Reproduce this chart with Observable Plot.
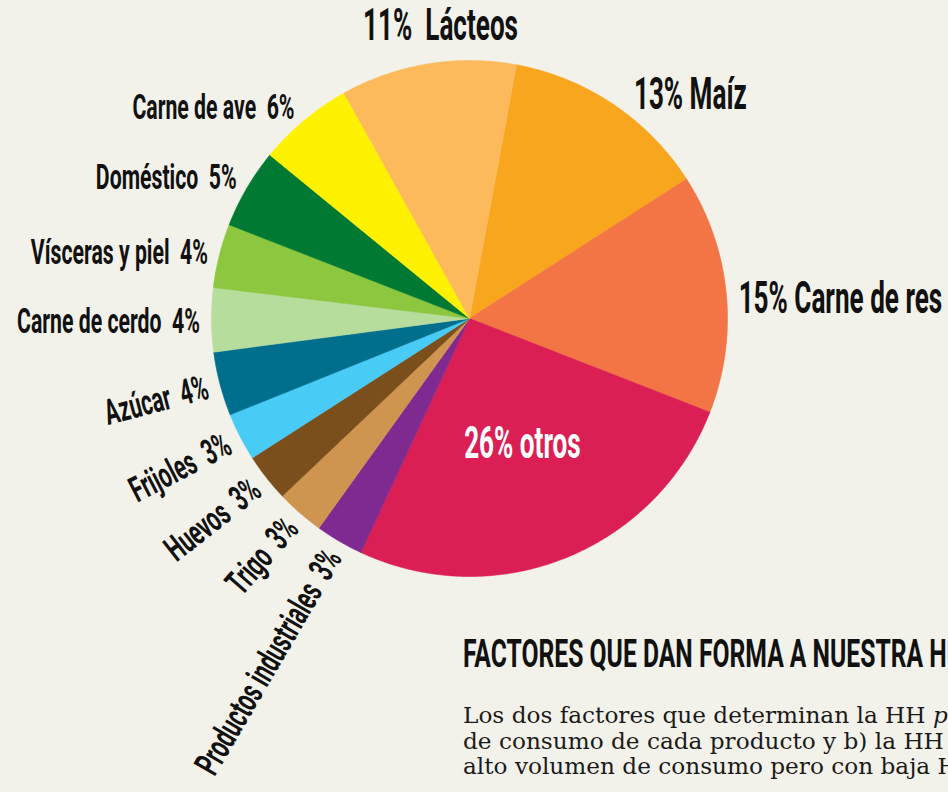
<!DOCTYPE html>
<html>
<head>
<meta charset="utf-8">
<script src="https://cdn.jsdelivr.net/npm/d3@7"></script>
<script src="https://cdn.jsdelivr.net/npm/@observablehq/plot@0.6"></script>
<style>
html, body { margin: 0; padding: 0; background: #F3F2EA; width: 948px; height: 792px; overflow: hidden; }
#wrap { position: relative; width: 948px; height: 792px; overflow: hidden; }
#chart { position: absolute; left: 0; top: 0; }
#heading { position: absolute; left: 463px; top: 635px; white-space: nowrap; font-family: Roboto, sans-serif; font-weight: 700; font-size: 38px; line-height: 38px; color: #111; transform: scaleX(0.65); transform-origin: 0 0; margin: 0; }
#body { position: absolute; left: 463px; top: 702px; white-space: nowrap; font-family: "DejaVu Serif", serif; font-size: 23.2px; line-height: 25.5px; color: #1a1a1a; }
</style>
</head>
<body>
<div id="wrap">
  <div id="chart"></div>
  <div id="heading">FACTORES QUE DAN FORMA A NUESTRA HUELLA HÍDRICA</div>
  <div id="body">
    <div>Los dos factores que determinan la HH <i>per cápita</i> son: a) el volumen</div>
    <div>de consumo de cada producto y b) la HH de cada uno de ellos.</div>
    <div>alto volumen de consumo pero con baja HH por kilogramo.</div>
  </div>
</div>
<script>
// ---- data ----
const categories = ["Maíz", "Carne de res", "otros", "Productos industriales", "Trigo", "Huevos", "Frijoles", "Azúcar", "Carne de cerdo", "Vísceras y piel", "Doméstico", "Carne de ave", "Lácteos"];
const shares = [13, 15, 26, 3, 3, 3, 3, 4, 4, 4, 5, 6, 11];
const colors = ["#F9A61F", "#F37445", "#DB1F55", "#7E2A90", "#CF9450", "#7A4F1B", "#48CBF5", "#006F8E", "#B7DD9C", "#8DC63F", "#007A32", "#FFF200", "#FDBA5D"];

// ---- layout (label placement style per slice) ----
const labelLayout = [
  {kind: "right", r: 1.08, dx: 9, dy: 8},
  {kind: "right", r: 1.06, dx: -3, dy: 8},
  {kind: "inside", r: 0.55, dx: 0, dy: -6},
  {kind: "radial", r: 1.05, dx: 0, dy: 0},
  {kind: "radial", r: 1.05, dx: 0, dy: 0},
  {kind: "radial", r: 1.05, dx: 0, dy: 0},
  {kind: "radial", r: 1.05, dx: 0, dy: 0},
  {kind: "radial", r: 1.05, dx: 0, dy: 0},
  {kind: "left", r: 1.045, dx: 0, dy: 2},
  {kind: "left", r: 1.045, dx: 0, dy: 0},
  {kind: "left", r: 1.045, dx: 0, dy: -5},
  {kind: "left", r: 1.045, dx: -2, dy: -4},
  {kind: "top", r: 1.15, dx: 19, dy: 0}
];

const W = 948, H = 792, CX = 469, CY = 318, R = 258;
const START = 10.5 * Math.PI / 180;

const rows = categories.map((name, i) => ({name, share: shares[i], i}));
const arcs = d3.pie().sort(null).value(d => d.share)
  .startAngle(START).endAngle(START + 2 * Math.PI)(rows);

const slicePts = arcs.flatMap(a => {
  const name = a.data.name;
  const n = Math.max(2, Math.ceil((a.endAngle - a.startAngle) / (Math.PI / 360)));
  const pts = [{name, x: 0, y: 0}];
  for (let k = 0; k <= n; k++) {
    const t = a.startAngle + (a.endAngle - a.startAngle) * k / n;
    pts.push({name, x: Math.sin(t), y: -Math.cos(t)});
  }
  pts.push({name, x: 0, y: 0});
  return pts;
});

const labels = arcs.map((a, i) => {
  const L = labelLayout[i];
  const m = (a.startAngle + a.endAngle) / 2;
  const deg = m * 180 / Math.PI;
  const d = a.data;
  const pctFirst = L.kind === "right" || L.kind === "inside" || L.kind === "top";
  const text = pctFirst
    ? (L.kind === "top" ? `${d.share}%\u00a0 ${d.name}` : `${d.share}% ${d.name}`)
    : `${d.name}\u00a0 ${d.share}%`;
  return {
    text,
    kind: L.kind,
    x: L.r * Math.sin(m) + L.dx / R,
    y: -L.r * Math.cos(m) + L.dy / R,
    rotate: L.kind === "radial" ? deg - 270 : 0,
    size: pctFirst ? 43.5 : 35.4,
    color: L.kind === "inside" ? "white" : "#111"
  };
});

const anchorOf = k => (k === "right" ? "start" : (k === "inside" || k === "top") ? "middle" : "end");

const textMark = anchor => Plot.text(labels.filter(l => anchorOf(l.kind) === anchor), {
  x: "x", y: "y", text: "text", rotate: "rotate", fontSize: "size",
  fill: "color", textAnchor: anchor, lineAnchor: "middle",
  fontFamily: "Roboto, sans-serif", fontWeight: 700
});

const chart = Plot.plot({
  width: W,
  height: H,
  margin: 0,
  style: {background: "transparent", overflow: "visible"},
  x: {domain: [-CX / R, (W - CX) / R], range: [0, W], axis: null},
  y: {domain: [-CY / R, (H - CY) / R], range: [0, H], axis: null},
  color: {domain: categories, range: colors},
  marks: [
    Plot.line(slicePts, {x: "x", y: "y", z: "name", fill: "name", stroke: "name", strokeWidth: 0.6, curve: "linear"}),
    textMark("start"),
    textMark("middle"),
    textMark("end")
  ]
});

chart.querySelectorAll('g[aria-label="text"] text').forEach(t => {
  const tr = t.getAttribute("transform") || "";
  t.setAttribute("transform", tr + " scale(0.6,1)");
});

document.getElementById("chart").appendChild(chart);
</script>
</body>
</html>
